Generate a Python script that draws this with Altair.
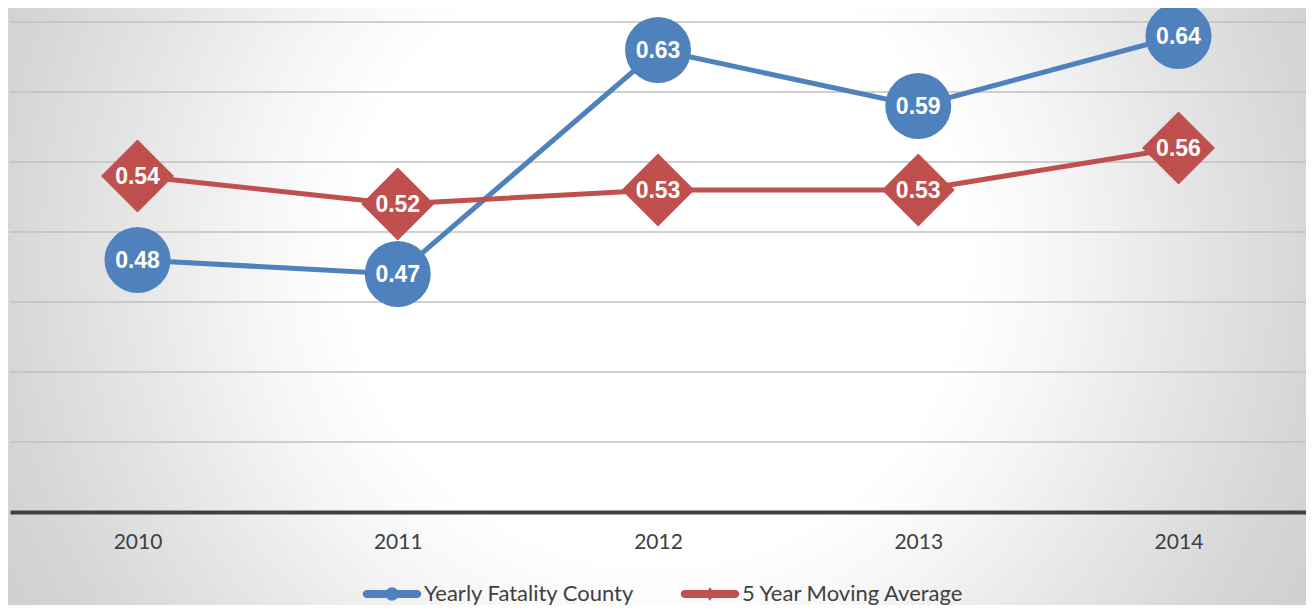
import altair as alt
import pandas as pd

years = ["2010", "2011", "2012", "2013", "2014"]
yearly_fatality = [0.48, 0.47, 0.63, 0.59, 0.64]
moving_average = [0.54, 0.52, 0.53, 0.53, 0.56]
series_names = ["Yearly Fatality County", "5 Year Moving Average"]
grid_values = [0.35, 0.40, 0.45, 0.50, 0.55, 0.60, 0.65]

BLUE = "#4F81BD"
RED = "#C0504D"
TEXT = "#404040"

rows = []
for y, v in zip(years, yearly_fatality):
    rows.append({"year": y, "series": series_names[0], "value": v})
for y, v in zip(years, moving_average):
    rows.append({"year": y, "series": series_names[1], "value": v})
df = pd.DataFrame(rows)
grid_df = pd.DataFrame({"g": grid_values})

W, H = 1296, 490

x_enc = alt.X(
    "year:O",
    sort=years,
    scale=alt.Scale(type="point", padding=0.49),
    axis=alt.Axis(
        title=None, labelAngle=0, ticks=False, tickSize=0, grid=False,
        domain=True, domainColor=TEXT, domainWidth=4, zindex=1,
        labelFont="Lato", labelFontSize=21, labelColor=TEXT,
        labelPadding=30, labelBaseline="middle",
    ),
)
y_scale = alt.Scale(domain=[0.3, 0.65], nice=False, zero=False)
y_enc = alt.Y("value:Q", scale=y_scale, axis=None)

bg = alt.Chart(pd.DataFrame({"a": [0]})).mark_rect(
    fill={
        "gradient": "radial",
        "stops": [
            {"offset": 0, "color": "#ffffff"},
            {"offset": 0.42, "color": "#ffffff"},
            {"offset": 0.55, "color": "#f6f6f6"},
            {"offset": 0.72, "color": "#e6e6e6"},
            {"offset": 0.9, "color": "#d6d6d6"},
            {"offset": 1, "color": "#d0d0d0"},
        ],
        "x1": 0.5, "y1": 0.46, "r1": 0,
        "x2": 0.5, "y2": 0.46, "r2": 0.5625,
    }
).encode(
    x=alt.value(-2), x2=alt.value(W), y=alt.value(-14), y2=alt.value(H + 93)
)

grid = alt.Chart(grid_df).mark_rule(color="#c0c0c0", strokeWidth=1.5).encode(
    y=alt.Y("g:Q", scale=y_scale, axis=None)
)

p_line = "M-0.87,-0.14L0.87,-0.14A0.14,0.14 0 0,1 0.87,0.14L-0.87,0.14A0.14,0.14 0 0,1 -0.87,-0.14Z"
path_circle = p_line + "M-0.23,0A0.23,0.23 0 1,1 0.23,0A0.23,0.23 0 1,1 -0.23,0Z"
path_diamond = p_line + "M-0.15,0L0,-0.24L0.15,0L0,0.24Z"

legend = alt.Legend(
    title=None, orient="none", legendX=353, legendY=543, direction="horizontal",
    padding=0, symbolSize=3364, labelFont="Lato", labelFontSize=22,
    labelColor=TEXT, labelOffset=3, columnPadding=45, labelLimit=500,
    symbolOpacity=1, symbolStrokeWidth=0,
)

color_scale = alt.Scale(domain=series_names, range=[BLUE, RED])

lines = alt.Chart(df).mark_line(strokeWidth=5, strokeCap="round").encode(
    x=x_enc, y=y_enc,
    color=alt.Color("series:N", scale=color_scale, legend=legend),
)

legend_layer = alt.Chart(df).mark_point(filled=True, opacity=0, size=10).encode(
    x=x_enc, y=y_enc,
    color=alt.Color("series:N", scale=color_scale, legend=legend),
    shape=alt.Shape("series:N", scale=alt.Scale(domain=series_names, range=[path_circle, path_diamond]), legend=legend),
)

pts_blue = alt.Chart(df).transform_filter(
    alt.datum.series == series_names[0]
).mark_point(shape="circle", filled=True, size=4356, opacity=1, color=BLUE).encode(x=x_enc, y=y_enc)

pts_red = alt.Chart(df).transform_filter(
    alt.datum.series == series_names[1]
).mark_point(shape="diamond", filled=True, size=5329, opacity=1, color=RED).encode(x=x_enc, y=y_enc)

labels = alt.Chart(df).mark_text(
    color="white", fontWeight="bold", font="Liberation Sans", fontSize=23,
    align="center", baseline="middle", dy=1,
).encode(x=x_enc, y=y_enc, text=alt.Text("value:Q", format=".2f"))

chart = alt.layer(bg, grid, lines, legend_layer, pts_blue, pts_red, labels).properties(
    width=W, height=H,
    padding={"left": 2, "top": 14, "right": 0, "bottom": 93},
    autosize=alt.AutoSizeParams(type="none"),
).configure_view(stroke=None)

chart.save("out.html", embed_options={"renderer": "svg", "actions": False})
